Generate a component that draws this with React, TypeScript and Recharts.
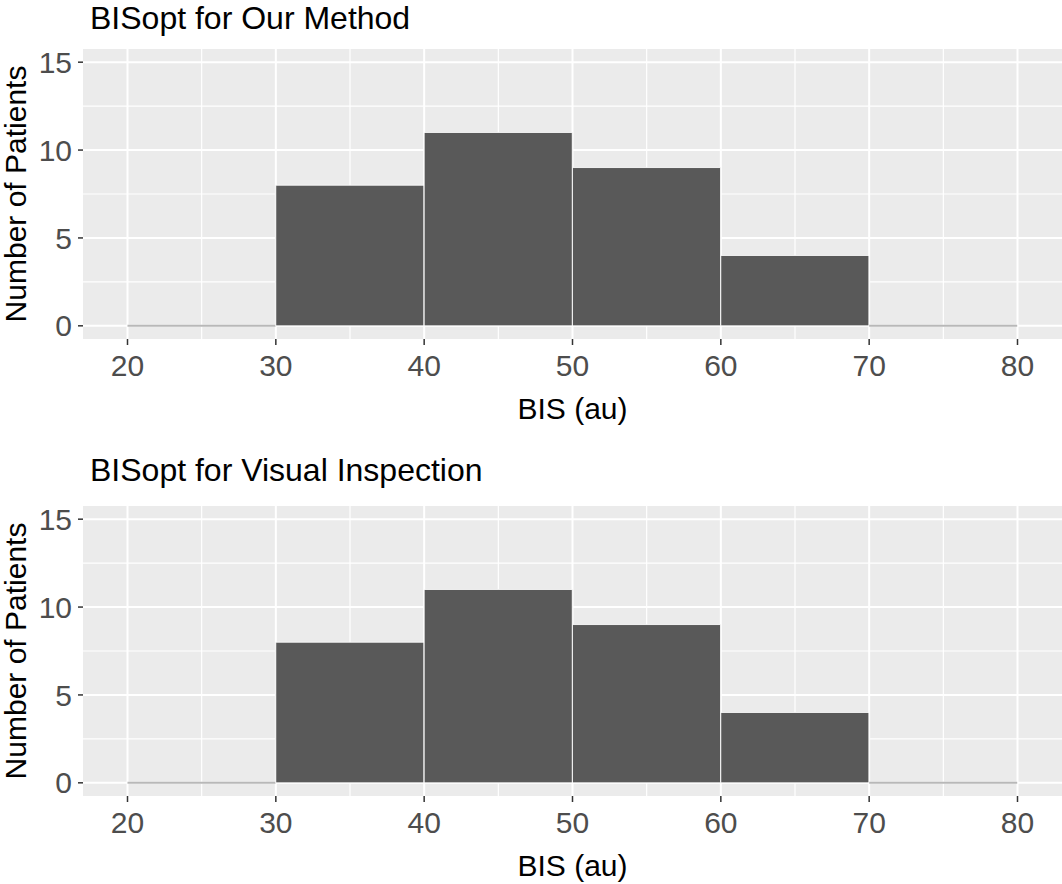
import React from 'react';
import { BarChart, Bar, XAxis, YAxis, CartesianGrid, Label } from 'recharts';

// histogram bins (BIS, au) and patient counts
const binStarts = [20, 30, 40, 50, 60, 70];
const binWidth = 10;
const countsOurMethod = [0, 8, 11, 9, 4, 0];
const countsVisual = [0, 8, 11, 9, 4, 0];

const xTicks = [20, 30, 40, 50, 60, 70, 80];
const xMinor = [25, 35, 45, 55, 65, 75];
const yTicks = [0, 5, 10, 15];
const yMinor = [2.5, 7.5, 12.5];

const FONT = '"Liberation Sans", Arial, sans-serif';
const W = 1062;
const H = 427;
const Y_AXIS_W = 83;
const TOP = 49;
const X_AXIS_H = 88;
const X_DOMAIN: [number, number] = [17, 83];
const PLOT_W = W - Y_AXIS_W;
// a hair under the band width, otherwise recharts falls back to 90% bars
const BAR_PX = (PLOT_W / (X_DOMAIN[1] - X_DOMAIN[0])) * binWidth - 0.3;

const HistBar = (props: any) => {
  const { x, y, width, height, fill } = props;
  if (!height || Math.abs(height) < 0.5) {
    return <line x1={x} x2={x + width} y1={y} y2={y} stroke="#b8b8b8" strokeWidth={2} />;
  }
  return <rect x={x} y={y} width={width} height={height} fill={fill} stroke="#ffffff" strokeWidth={0.8} />;
};

const Panel = ({ counts }: { counts: number[] }) => {
  const data = binStarts.map((s, i) => ({ mid: s + binWidth / 2, count: counts[i] }));
  return (
    <BarChart
      width={W}
      height={H}
      data={data}
      barCategoryGap={0}
      barGap={0}
      margin={{ top: TOP, right: 0, bottom: 0, left: 0 }}
    >
      <CartesianGrid
        fill="#ebebeb"
        stroke="#ffffff"
        strokeWidth={1.2}
        horizontalValues={yMinor}
        verticalValues={xMinor}
      />
      <CartesianGrid stroke="#ffffff" strokeWidth={2} horizontalValues={yTicks} verticalValues={xTicks} />
      <XAxis
        dataKey="mid"
        type="number"
        domain={X_DOMAIN}
        allowDataOverflow
        ticks={xTicks}
        interval={0}
        axisLine={false}
        tickLine={{ stroke: '#333333', strokeWidth: 1.5 }}
        tickSize={6}
        tickMargin={10}
        height={X_AXIS_H}
        tick={{ fill: '#4d4d4d', fontSize: 30, fontFamily: FONT }}
      >
        <Label value="BIS (au)" position="center" dy={25} fill="#000000" fontSize={30} fontFamily={FONT} />
      </XAxis>
      <YAxis
        type="number"
        domain={[-0.75, 15.75]}
        allowDataOverflow
        ticks={yTicks}
        interval={0}
        axisLine={false}
        tickLine={{ stroke: '#333333', strokeWidth: 1.5 }}
        tickSize={5}
        tickMargin={6}
        width={Y_AXIS_W}
        tick={{ fill: '#4d4d4d', fontSize: 30, fontFamily: FONT }}
      >
        <Label
          value="Number of Patients"
          position="center"
          angle={-90}
          dx={-26}
          fill="#000000"
          fontSize={30}
          fontFamily={FONT}
        />
      </YAxis>
      <Bar dataKey="count" fill="#595959" barSize={BAR_PX} shape={HistBar} isAnimationActive={false} />
    </BarChart>
  );
};

const titleStyle: React.CSSProperties = {
  position: 'absolute',
  left: 90,
  fontFamily: FONT,
  fontSize: 32,
  lineHeight: '32px',
  color: '#000000',
  whiteSpace: 'nowrap',
};

export default function App() {
  return (
    <div style={{ position: 'absolute', left: 0, top: 0, width: W, height: 884, overflow: 'hidden', background: '#ffffff' }}>
      <div style={{ position: 'absolute', left: 0, top: 0 }}>
        <Panel counts={countsOurMethod} />
      </div>
      <div style={{ ...titleStyle, top: 2 }}>BISopt for Our Method</div>
      <div style={{ position: 'absolute', left: 0, top: 457 }}>
        <Panel counts={countsVisual} />
      </div>
      <div style={{ ...titleStyle, top: 454 }}>BISopt for Visual Inspection</div>
    </div>
  );
}
